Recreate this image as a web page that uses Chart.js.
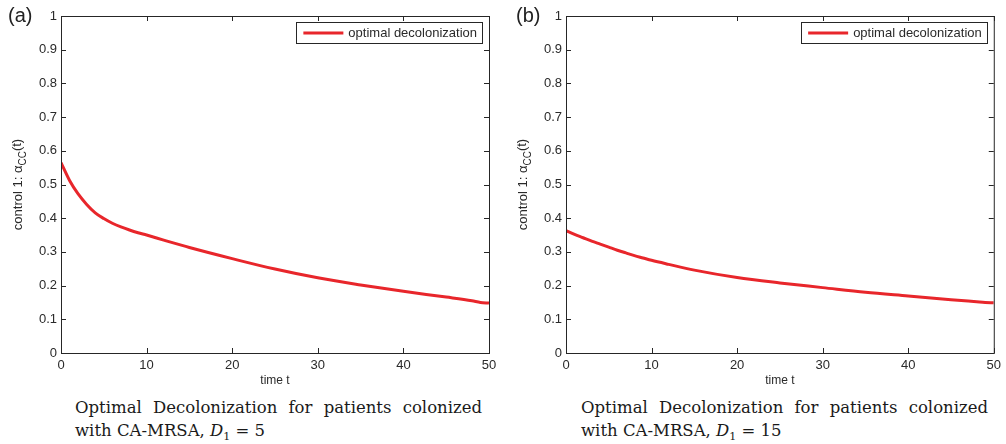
<!DOCTYPE html>
<html>
<head>
<meta charset="utf-8">
<script src="https://cdn.jsdelivr.net/npm/chart.js@4.4.0/dist/chart.umd.min.js"></script>
<style>
  body { margin: 0; width: 1006px; height: 444px; background: #fff; position: relative; overflow: hidden; }
  .panel { position: absolute; top: 0; width: 503px; height: 393px; }
  .tag { position: absolute; top: 3px; font-family: "Liberation Sans", Arial, sans-serif; font-size: 20px; line-height: 24px; color: #222; }
  .cap { position: absolute; width: 407px; font-family: "DejaVu Serif", serif; font-size: 16.5px; line-height: 23px; color: #1a1a1a; white-space: nowrap; }
  .cap .l1 { text-align: justify; text-align-last: justify; white-space: normal; }
</style>
</head>
<body>
<div class="panel" style="left:0"><canvas id="chartA"></canvas></div>
<div class="panel" style="left:503px"><canvas id="chartB"></canvas></div>
<div class="tag" style="left:8px">(a)</div>
<div class="tag" style="left:516px">(b)</div>
<div class="cap" style="left:75px;top:396px">
  <div class="l1">Optimal Decolonization for patients colonized</div>
  <div>with CA-MRSA, <i>D</i><sub style="font-size:11px">1</sub> = 5</div>
</div>
<div class="cap" style="left:581px;top:396px">
  <div class="l1">Optimal Decolonization for patients colonized</div>
  <div>with CA-MRSA, <i>D</i><sub style="font-size:11px">1</sub> = 15</div>
</div>
<script>
// time grid (days) and optimal control alpha_CC(t)
const timeT = [0, 1, 2, 3, 4, 5, 6, 7, 8, 9, 10, 12, 15, 20, 25, 30, 35, 40, 45, 48, 49, 50];
const alphaD5 = [0.565, 0.512, 0.472, 0.441, 0.416, 0.399, 0.385, 0.374, 0.365, 0.357, 0.350, 0.335, 0.313, 0.280, 0.249, 0.223, 0.202, 0.183, 0.166, 0.155, 0.150, 0.148];
const alphaD15 = [0.363, 0.352, 0.342, 0.332, 0.323, 0.314, 0.305, 0.297, 0.289, 0.282, 0.275, 0.263, 0.246, 0.224, 0.208, 0.194, 0.180, 0.169, 0.158, 0.152, 0.150, 0.149];
const xTicks = [0, 10, 20, 30, 40, 50];
const yTicks = [0, 0.1, 0.2, 0.3, 0.4, 0.5, 0.6, 0.7, 0.8, 0.9, 1];
const seriesLabel = 'optimal decolonization';

const axisColor = '#262626';
const textColor = '#2a2a2a';
const lineRed = '#e8262b';
const font = '"Liberation Sans", Arial, sans-serif';

// MATLAB-like box: frame, inward ticks on all sides, axis titles, legend
const matlabBox = {
  id: 'matlabBox',
  afterDraw(chart, args, opts) {
    const { ctx, chartArea: a, scales: { x, y } } = chart;
    ctx.save();
    ctx.strokeStyle = axisColor;
    ctx.lineWidth = 1;
    ctx.strokeRect(a.left + 0.5, a.top + 0.5, a.right - a.left, a.bottom - a.top);

    ctx.beginPath();
    xTicks.forEach(v => {
      const px = Math.round(x.getPixelForValue(v)) + 0.5;
      ctx.moveTo(px, a.bottom); ctx.lineTo(px, a.bottom - 5);
      ctx.moveTo(px, a.top); ctx.lineTo(px, a.top + 5);
    });
    yTicks.forEach(v => {
      const py = Math.round(y.getPixelForValue(v)) + 0.5;
      ctx.moveTo(a.left, py); ctx.lineTo(a.left + 5, py);
      ctx.moveTo(a.right, py); ctx.lineTo(a.right - 5, py);
    });
    ctx.stroke();

    // x title
    ctx.fillStyle = textColor;
    ctx.font = '12px ' + font;
    ctx.textAlign = 'center';
    ctx.textBaseline = 'middle';
    ctx.fillText('time t', (a.left + a.right) / 2, a.bottom + 28);

    // y title with subscript
    ctx.save();
    ctx.translate(opts.yTitleX, (a.top + a.bottom) / 2);
    ctx.rotate(-Math.PI / 2);
    ctx.textBaseline = 'alphabetic';
    ctx.textAlign = 'left';
    const main = 'control 1: \u03b1';
    ctx.font = '13px ' + font;
    const w1 = ctx.measureText(main).width;
    ctx.font = '10px ' + font;
    const w2 = ctx.measureText('CC').width;
    ctx.font = '13px ' + font;
    const w3 = ctx.measureText('(t)').width;
    let sx = -(w1 + w2 + w3) / 2;
    ctx.fillText(main, sx, 0);
    sx += w1;
    ctx.font = '10px ' + font;
    ctx.fillText('CC', sx, 4);
    sx += w2;
    ctx.font = '13px ' + font;
    ctx.fillText('(t)', sx, -1);
    ctx.restore();

    // legend box
    ctx.font = '13px ' + font;
    const label = chart.data.datasets[0].label;
    const tw = ctx.measureText(label).width;
    const bw = 7 + 40 + 5 + tw + 5;
    const bx = a.right - 7 - bw;
    const by = a.top + 6;
    ctx.fillStyle = '#fff';
    ctx.fillRect(bx, by, bw, 21);
    ctx.strokeStyle = axisColor;
    ctx.strokeRect(Math.round(bx) + 0.5, by + 0.5, Math.round(bw), 21);
    ctx.strokeStyle = lineRed;
    ctx.lineWidth = 3;
    ctx.beginPath();
    ctx.moveTo(bx + 7, by + 11);
    ctx.lineTo(bx + 47, by + 11);
    ctx.stroke();
    ctx.fillStyle = textColor;
    ctx.textAlign = 'left';
    ctx.textBaseline = 'middle';
    ctx.fillText(label, bx + 52, by + 11);
    ctx.restore();
  }
};

function makeChart(id, values, pad, yTitleX) {
  return new Chart(document.getElementById(id), {
    type: 'line',
    data: {
      datasets: [{
        label: seriesLabel,
        data: timeT.map((t, i) => ({ x: t, y: values[i] })),
        borderColor: lineRed,
        borderWidth: 3,
        pointRadius: 0,
        cubicInterpolationMode: 'monotone',
        fill: false
      }]
    },
    options: {
      responsive: false,
      animation: false,
      layout: { padding: pad },
      plugins: {
        legend: { display: false },
        tooltip: { enabled: false },
        matlabBox: { yTitleX: yTitleX }
      },
      scales: {
        x: {
          type: 'linear',
          min: 0, max: 50,
          afterFit: s => { s.height = 40; },
          afterBuildTicks: s => { s.ticks = xTicks.map(v => ({ value: v })); },
          grid: { display: false, drawTicks: false },
          border: { display: false },
          ticks: { padding: 5, color: textColor, font: { family: font, size: 13 } }
        },
        y: {
          min: 0, max: 1,
          afterFit: s => { s.width = 40; },
          afterBuildTicks: s => { s.ticks = yTicks.map(v => ({ value: v })); },
          grid: { display: false, drawTicks: false },
          border: { display: false },
          ticks: {
            padding: 4, color: textColor, font: { family: font, size: 13 },
            callback: v => String(Number(v.toFixed(2)))
          }
        }
      }
    },
    plugins: [matlabBox]
  });
}

function sizeCanvas(id) {
  const c = document.getElementById(id);
  c.width = 503; c.height = 393;
  c.style.width = '503px'; c.style.height = '393px';
}
sizeCanvas('chartA');
sizeCanvas('chartB');

makeChart('chartA', alphaD5, { left: 21, top: 16, right: 14, bottom: 0 }, 22);
makeChart('chartB', alphaD15, { left: 23, top: 16, right: 11, bottom: 0 }, 24);
</script>
</body>
</html>
